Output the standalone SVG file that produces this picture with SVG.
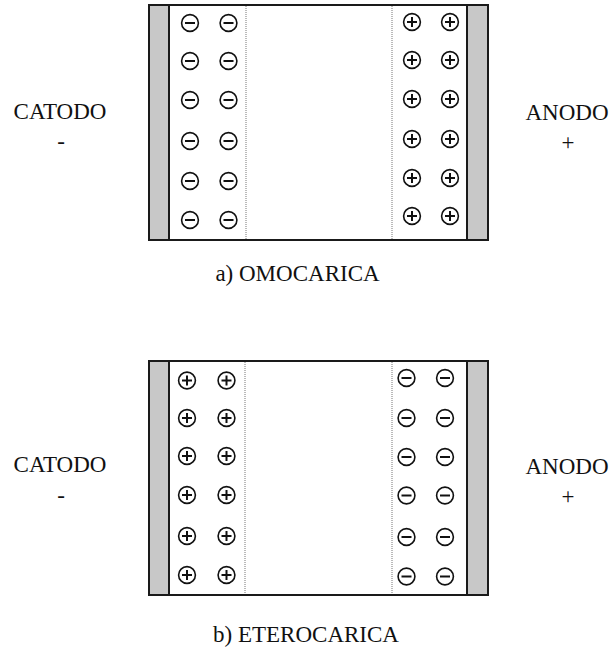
<svg xmlns="http://www.w3.org/2000/svg" xmlns:xlink="http://www.w3.org/1999/xlink" width="613" height="652" viewBox="0 0 613 652">
  <style>
    .frame { fill: #ffffff; stroke: #1a1a1a; stroke-width: 2; }
    .electrode { fill: #c8c8c8; stroke: #1a1a1a; stroke-width: 2; }
    .layer { stroke: #777777; stroke-width: 1; stroke-dasharray: 1 1; fill: none; }
    .ion { fill: #ffffff; stroke: #111111; stroke-width: 1.6; }
    .sign { stroke: #111111; stroke-width: 2; stroke-linecap: butt; }
    .lbl { font-family: "Liberation Serif", "Times New Roman", serif; font-size: 23px; fill: #111111; text-anchor: middle; }
  </style>
  <defs>
    <g id="neg">
      <circle class="ion" r="8.4"/>
      <line class="sign" x1="-5" y1="0" x2="5" y2="0"/>
    </g>
    <g id="pos">
      <circle class="ion" r="8.4"/>
      <line class="sign" x1="-5" y1="0" x2="5" y2="0"/>
      <line class="sign" x1="0" y1="-5" x2="0" y2="5"/>
    </g>
  </defs>

  <!-- a) homocharge cell -->
  <g id="cell-a">
    <rect class="frame" x="149" y="5" width="339" height="235"/>
    <rect class="electrode" x="149" y="5" width="20" height="235"/>
    <rect class="electrode" x="467" y="5" width="21" height="235"/>
    <line class="layer" x1="246" y1="6" x2="246" y2="239"/>
    <line class="layer" x1="392" y1="6" x2="392" y2="239"/>
    <g id="cell-a-neg">
      <use xlink:href="#neg" x="190" y="23"/><use xlink:href="#neg" x="228.5" y="23"/>
      <use xlink:href="#neg" x="190" y="61"/><use xlink:href="#neg" x="228.5" y="61"/>
      <use xlink:href="#neg" x="190" y="100"/><use xlink:href="#neg" x="228.5" y="100"/>
      <use xlink:href="#neg" x="190" y="141"/><use xlink:href="#neg" x="228.5" y="141"/>
      <use xlink:href="#neg" x="190" y="181"/><use xlink:href="#neg" x="228.5" y="181"/>
      <use xlink:href="#neg" x="190" y="220"/><use xlink:href="#neg" x="228.5" y="220"/>
    </g>
    <g id="cell-a-pos">
      <use xlink:href="#pos" x="412" y="22"/><use xlink:href="#pos" x="450" y="22"/>
      <use xlink:href="#pos" x="412" y="60"/><use xlink:href="#pos" x="450" y="60"/>
      <use xlink:href="#pos" x="412" y="99"/><use xlink:href="#pos" x="450" y="99"/>
      <use xlink:href="#pos" x="412" y="139"/><use xlink:href="#pos" x="450" y="139"/>
      <use xlink:href="#pos" x="412" y="178"/><use xlink:href="#pos" x="450" y="178"/>
      <use xlink:href="#pos" x="412" y="216"/><use xlink:href="#pos" x="450" y="216"/>
    </g>
    <g id="cell-a-cathode">
      <text class="lbl" x="60" y="119">CATODO</text>
      <text class="lbl" x="61" y="149">-</text>
    </g>
    <g id="cell-a-anode">
      <text class="lbl" x="567" y="120">ANODO</text>
      <text class="lbl" x="568" y="150">+</text>
    </g>
    <text id="cell-a-title" class="lbl" x="297.5" y="281">a) OMOCARICA</text>
  </g>

  <!-- b) heterocharge cell -->
  <g id="cell-b">
    <rect class="frame" x="149" y="361" width="339" height="234"/>
    <rect class="electrode" x="149" y="361" width="20" height="234"/>
    <rect class="electrode" x="467" y="361" width="21" height="234"/>
    <line class="layer" x1="245" y1="362" x2="245" y2="594"/>
    <line class="layer" x1="392" y1="362" x2="392" y2="594"/>
    <g id="cell-b-pos">
      <use xlink:href="#pos" x="187" y="380.5"/><use xlink:href="#pos" x="226.5" y="380.5"/>
      <use xlink:href="#pos" x="187" y="418"/><use xlink:href="#pos" x="226.5" y="418"/>
      <use xlink:href="#pos" x="187" y="456"/><use xlink:href="#pos" x="226.5" y="456"/>
      <use xlink:href="#pos" x="187" y="495"/><use xlink:href="#pos" x="226.5" y="495"/>
      <use xlink:href="#pos" x="187" y="536"/><use xlink:href="#pos" x="226.5" y="536"/>
      <use xlink:href="#pos" x="187" y="575"/><use xlink:href="#pos" x="226.5" y="575"/>
    </g>
    <g id="cell-b-neg">
      <use xlink:href="#neg" x="406.5" y="378"/><use xlink:href="#neg" x="445" y="378"/>
      <use xlink:href="#neg" x="406.5" y="418"/><use xlink:href="#neg" x="445" y="418"/>
      <use xlink:href="#neg" x="406.5" y="457"/><use xlink:href="#neg" x="445" y="457"/>
      <use xlink:href="#neg" x="406.5" y="495.5"/><use xlink:href="#neg" x="445" y="495.5"/>
      <use xlink:href="#neg" x="406.5" y="537"/><use xlink:href="#neg" x="445" y="537"/>
      <use xlink:href="#neg" x="406.5" y="576.5"/><use xlink:href="#neg" x="445" y="576.5"/>
    </g>
    <g id="cell-b-cathode">
      <text class="lbl" x="60" y="472">CATODO</text>
      <text class="lbl" x="61" y="503">-</text>
    </g>
    <g id="cell-b-anode">
      <text class="lbl" x="567" y="474">ANODO</text>
      <text class="lbl" x="568" y="504">+</text>
    </g>
    <text id="cell-b-title" class="lbl" x="306" y="642">b) ETEROCARICA</text>
  </g>
</svg>
